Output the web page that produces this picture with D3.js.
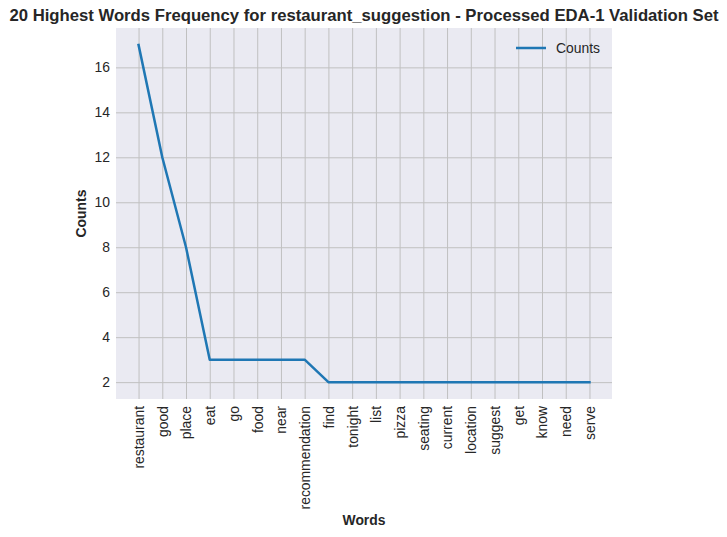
<!DOCTYPE html>
<html>
<head>
<meta charset="utf-8">
<script src="https://cdn.jsdelivr.net/npm/d3@7"></script>
<style>
  body { margin: 0; background: #fff; }
  text { font-family: "Liberation Sans", Arial, sans-serif; fill: #262626; }
</style>
</head>
<body>
<svg id="chart" width="727" height="537"></svg>
<script>
'use strict';

var words = ['restaurant', 'good', 'place', 'eat', 'go', 'food', 'near', 'recommendation',
  'find', 'tonight', 'list', 'pizza', 'seating', 'current', 'location', 'suggest',
  'get', 'know', 'need', 'serve'];
var counts = [17, 12, 8, 3, 3, 3, 3, 3, 2, 2, 2, 2, 2, 2, 2, 2, 2, 2, 2, 2];
var yTicks = [2, 4, 6, 8, 10, 12, 14, 16];
var titleText = '20 Highest Words Frequency for restaurant_suggestion - Processed EDA-1 Validation Set';

var svg = d3.select('#chart');
var plot = {left: 116, right: 612, top: 28, bottom: 399};

// matplotlib style 5% padding on both axes
var n = words.length;
var x = d3.scaleLinear()
    .domain([-0.05 * (n - 1), (n - 1) * 1.05])
    .range([plot.left, plot.right]);
var yMin = d3.min(counts), yMax = d3.max(counts), pad = (yMax - yMin) * 0.05;
var y = d3.scaleLinear()
    .domain([yMin - pad, yMax + pad])
    .range([plot.bottom, plot.top]);

svg.append('rect')
    .attr('x', plot.left).attr('y', plot.top)
    .attr('width', plot.right - plot.left).attr('height', plot.bottom - plot.top)
    .attr('fill', '#eaeaf2');

// grid via axes
var xAxis = d3.axisBottom(x)
    .tickValues(d3.range(n))
    .tickSize(-(plot.bottom - plot.top))
    .tickFormat(function(i) { return words[i]; });
var gx = svg.append('g')
    .attr('transform', 'translate(0,' + plot.bottom + ')')
    .call(xAxis);
gx.select('.domain').remove();
gx.selectAll('line').attr('stroke', '#c0c0c0').attr('stroke-width', 1);
gx.selectAll('text')
    .attr('transform', 'rotate(-90)')
    .attr('x', -7).attr('y', 0).attr('dy', '0.35em')
    .attr('text-anchor', 'end')
    .attr('font-size', 13.9)
    .style('font-family', '"Liberation Sans", Arial, sans-serif')
    .attr('fill', '#262626');

var yAxis = d3.axisLeft(y)
    .tickValues(yTicks)
    .tickSize(-(plot.right - plot.left))
    .tickPadding(6);
var gy = svg.append('g')
    .attr('transform', 'translate(' + plot.left + ',0)')
    .call(yAxis);
gy.select('.domain').remove();
gy.selectAll('line').attr('stroke', '#c0c0c0').attr('stroke-width', 1);
gy.selectAll('text')
    .attr('font-size', 13.9)
    .style('font-family', '"Liberation Sans", Arial, sans-serif')
    .attr('fill', '#262626');

var line = d3.line()
    .x(function(d, i) { return x(i); })
    .y(function(d) { return y(d); });

svg.append('path')
    .datum(counts)
    .attr('d', line)
    .attr('fill', 'none')
    .attr('stroke', '#1f77b4')
    .attr('stroke-width', 2.5)
    .attr('stroke-linejoin', 'round')
    .attr('stroke-linecap', 'square');

// legend
var lg = svg.append('g').attr('transform', 'translate(516,48)');
lg.append('line').attr('x1', 0).attr('x2', 30).attr('y1', 0).attr('y2', 0)
    .attr('stroke', '#1f77b4').attr('stroke-width', 2.5);
lg.append('text').attr('x', 40).attr('dy', '0.35em')
    .attr('font-size', 13.9).text('Counts');

// titles
svg.append('text')
    .attr('x', (plot.left + plot.right) / 2).attr('y', 21)
    .attr('text-anchor', 'middle')
    .attr('font-size', 16.7).attr('font-weight', 'bold')
    .text(titleText);

svg.append('text')
    .attr('x', (plot.left + plot.right) / 2).attr('y', 525)
    .attr('text-anchor', 'middle')
    .attr('font-size', 13.9).attr('font-weight', 'bold')
    .text('Words');

svg.append('text')
    .attr('transform', 'translate(86,' + ((plot.top + plot.bottom) / 2) + ') rotate(-90)')
    .attr('text-anchor', 'middle')
    .attr('font-size', 13.9).attr('font-weight', 'bold')
    .text('Counts');
</script>
</body>
</html>
